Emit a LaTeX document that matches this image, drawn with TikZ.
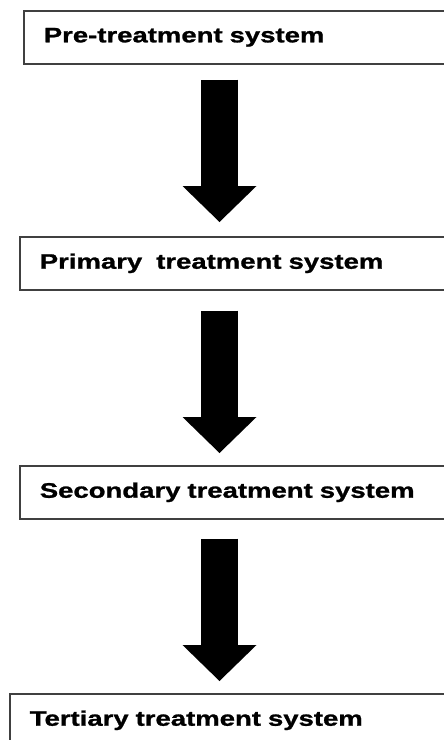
\documentclass[tikz,border=0pt]{standalone}
\usepackage{fontspec}
\newfontfamily\stagefont[FakeStretch=1.31, BoldFeatures={FakeBold=1.2}]{Liberation Sans}
\usetikzlibrary{positioning, arrows.meta, calc}

\begin{document}
\begin{tikzpicture}[x=1pt, y=-1pt,
    stagebox/.style={rectangle, draw=black!75, line width=1.6pt, fill=white, anchor=north west, minimum height=53pt, text width=400pt, inner xsep=20pt, inner ysep=0pt, align=left, font=\fontsize{21}{24}\selectfont\stagefont\bfseries},
    flowarr/.style={line width=37pt, -{Triangle[width=74pt, length=36pt, line width=0pt]}},
]
\clip (0,0) rectangle (444,740);

\node[stagebox] (pre) at (23,10) {Pre-treatment system};
\node[stagebox] (prim) at (19,236) {Primary\ \ treatment system};
\node[stagebox] (sec) at (19,465) {Secondary treatment system};
\node[stagebox] (ter) at (9,693) {Tertiary treatment system};

% all arrows share one vertical axis
\coordinate (axis) at (219.5,0);

\draw[flowarr] ($(pre.south -| axis)+(0,15)$) -- ($(prim.north -| axis)+(0,-14)$);
\draw[flowarr] ($(prim.south -| axis)+(0,20)$) -- ($(sec.north -| axis)+(0,-12)$);
\draw[flowarr] ($(sec.south -| axis)+(0,19)$) -- ($(ter.north -| axis)+(0,-12)$);

\end{tikzpicture}
\end{document}
